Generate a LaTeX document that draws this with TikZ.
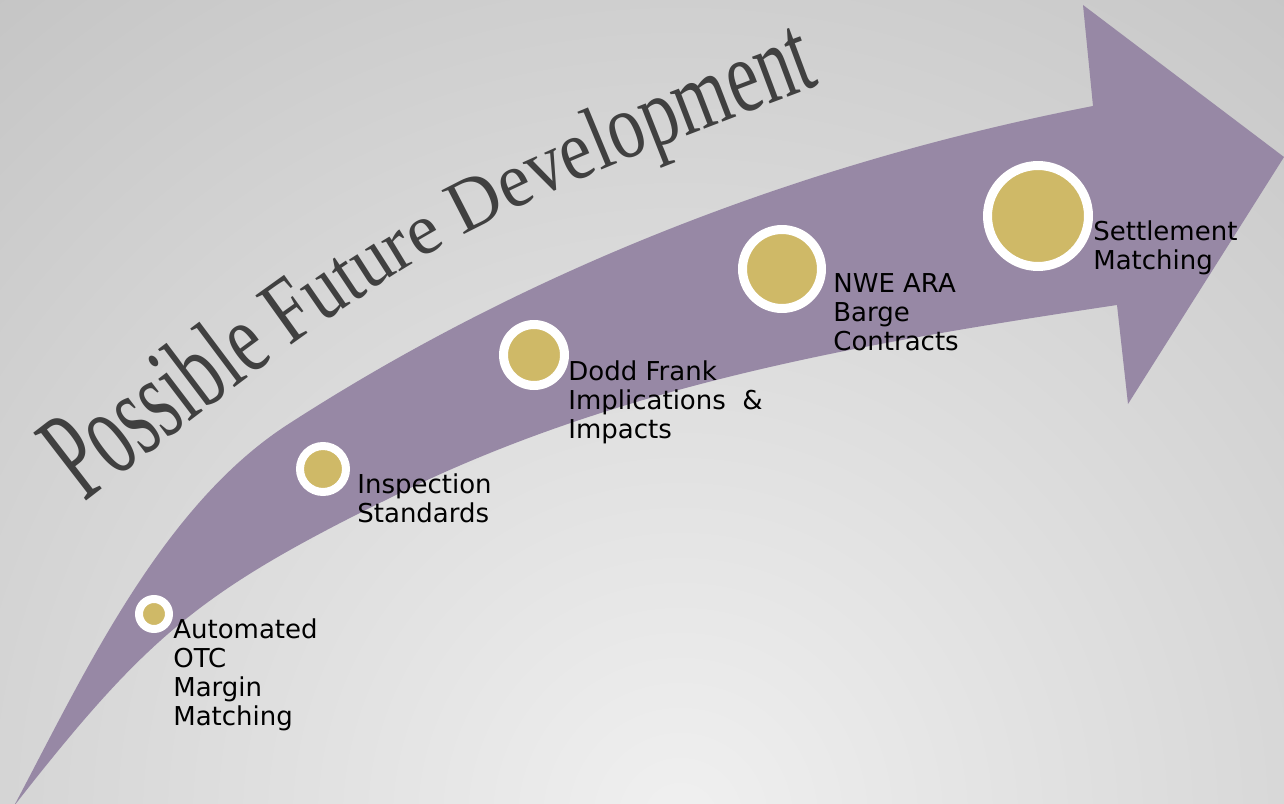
\documentclass[tikz,border=0pt]{standalone}
\usepackage{fontspec}
\usepackage{tikz}
\setmainfont{DejaVu Sans}
\newfontfamily\titlefont{Liberation Serif}
\definecolor{bglight}{RGB}{240,240,240}
\definecolor{bgdark}{RGB}{194,194,194}
\definecolor{trackpurple}{RGB}{151,136,165}
\definecolor{gold}{RGB}{207,185,103}
\definecolor{titlegray}{RGB}{64,64,64}
\usetikzlibrary{decorations.text}
\tikzset{%
  milestone/.style={circle, draw=white, fill=gold, inner sep=0pt},% gold disc, white ring
  caption/.style={anchor=north west, inner sep=0pt, align=left, text=black,
    font=\fontsize{14.8}{16.5}\selectfont}% text beside a disc
}

\begin{document}
\begin{tikzpicture}[x=0.02cm, y=-0.02cm]
\useasboundingbox (0,0) rectangle (1284,804);
\clip (0,0) rectangle (1284,804);
\shade[inner color=bglight, outer color=bgdark] (680,820) circle (1150);

% curved arrow
\fill[trackpurple] (14,806) .. controls (84,674) and (161,507) .. (287,425)
  .. controls (531,267) and (809,161) .. (1093,106)
  -- (1083,5) -- (1284,157) -- (1128,404) -- (1117,305)
  .. controls (870,342) and (625,383) .. (400,493)
  .. controls (202,590) and (149.5,632.6) .. (14,806) -- cycle;

% title, letters taller at both ends
\begin{scope}[font=\titlefont\fontsize{41}{41}\selectfont, text=titlegray]
\path[decorate, decoration={text effects along path,
    text={Possible Future Development},
    text effects/.cd, text along path,
    character count=\i, character total=\n,
    characters={yscale={max(1.88-1.6*\i/\n, 1.0, 1.0+1.4*(\i/\n-0.6))}}}]
  (84,503) .. controls (446,224) .. (920,48);
\end{scope}

\node[milestone, minimum size=0.6cm, line width=0.16cm] (otc) at (154,614) {};
\node[milestone, minimum size=0.92cm, line width=0.16cm] (insp) at (323,469) {};
\node[milestone, minimum size=1.22cm, line width=0.18cm] (dodd) at (534,355) {};
\node[milestone, minimum size=1.58cm, line width=0.18cm] (nwe) at (782,269) {};
\node[milestone, minimum size=2.02cm, line width=0.18cm] (settle) at (1038,216) {};

\node[caption] (otc-text) at (173,618) {Automated\\OTC\\Margin\\Matching};
\node[caption] (insp-text) at (357,473) {Inspection\\Standards};
\node[caption] (dodd-text) at (568,360) {Dodd Frank\\Implications \ \&\\Impacts};
\node[caption] (nwe-text) at (833,273) {NWE ARA\\Barge\\Contracts};
\node[caption] (settle-text) at (1093,220) {Settlement\\Matching};
\end{tikzpicture}
\end{document}
